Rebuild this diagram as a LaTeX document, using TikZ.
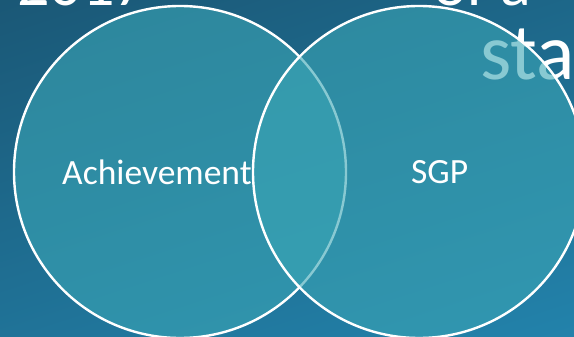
\documentclass[tikz,border=0pt]{standalone}
\usepackage{fontspec}
\setmainfont{Carlito}
\definecolor{bgdark}{HTML}{1A5674}
\definecolor{bglight}{HTML}{2384AD}
\definecolor{circfill}{HTML}{3AA5B5}
\tikzset{
  titletext/.style={text=white, inner sep=0pt, anchor=base west},
  label/.style={text=white, inner sep=0pt, anchor=base west, font=\fontsize{35.5}{40}\selectfont},
  venn/.style={fill=circfill, fill opacity=0.6, draw=white, line width=2.4pt}
}
\begin{document}
\begin{tikzpicture}[x=1pt,y=-1pt]
\useasboundingbox (0,0) rectangle (574,337);
\clip (0,0) rectangle (574,337);
\shade[top color=bgdark, bottom color=bglight, shading angle=18] (-100,-60) rectangle (674,397);
\node[titletext, font=\fontsize{64}{70}\selectfont] (t1) at (17,6) {2017};
\node[titletext, font=\fontsize{64}{70}\selectfont] (t2) at (433,6) {of a};
\node[titletext, font=\fontsize{80}{90}\selectfont] (t3) at (480,80) {sta};
\path[venn] (180,172) circle[radius=166];
\path[venn] (419,172) circle[radius=166];
\node[label] (a) at (62,185) {Achievement};
\node[label] (s) at (411,184) {SGP};
\end{tikzpicture}
\end{document}
